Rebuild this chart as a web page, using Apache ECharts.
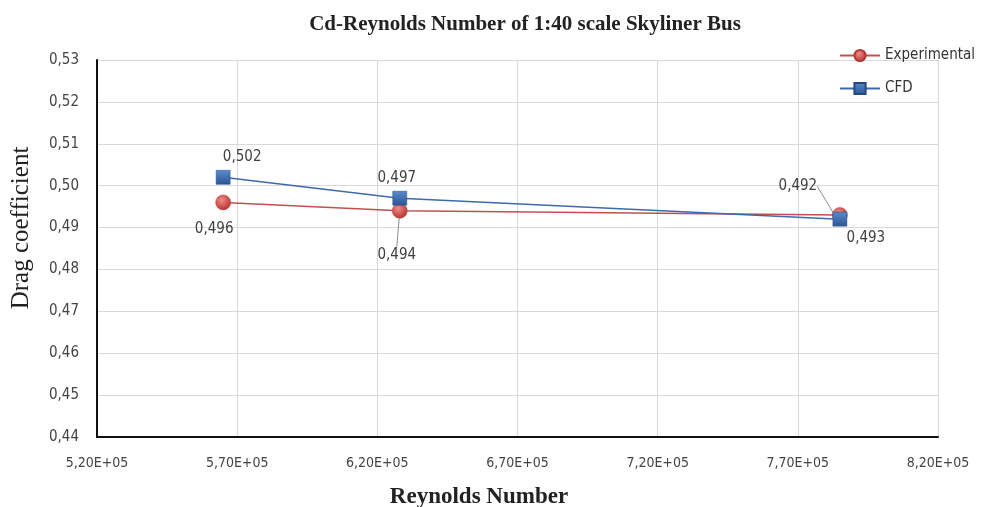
<!DOCTYPE html>
<html>
<head>
<meta charset="utf-8">
<script src="https://cdn.jsdelivr.net/npm/echarts@6/dist/echarts.min.js"></script>
<style>
html,body{margin:0;padding:0;background:#fff;}
#chart{width:984px;height:507px;}
</style>
</head>
<body>
<div id="chart"></div>
<script>
// Reynolds numbers of the three test runs
const reynolds = [565000, 628000, 785000];
// Drag coefficient, wind tunnel vs. CFD
const experimental = [0.496, 0.494, 0.493];
const cfd = [0.502, 0.497, 0.492];
const seriesNames = ['Experimental', 'CFD'];

// label placement around each point (dx, dy from the marker centre)
const expLabelShift = [[-9, 27], [-3, 44], [26, 23]];
const cfdLabelShift = [[19, -20], [-3, -20], [-42, -33]];
const expLeader = [false, true, false];
const cfdLeader = [false, false, true];

const comma = (v, d) => v.toFixed(d).replace('.', ',');
const narrow = "'Liberation Sans Narrow','DejaVu Sans Condensed','Liberation Sans',sans-serif";
const serif = "'Liberation Serif','DejaVu Serif',serif";

function buildData(xs, ys, leader) {
  return xs.map((x, i) => ({
    value: [x, ys[i]],
    labelLine: { show: leader[i], lineStyle: { color: '#8c8c8c', width: 1 }, length2: 0 }
  }));
}

const chart = echarts.init(document.getElementById('chart'));
chart.setOption({
  animation: false,
  backgroundColor: '#fff',
  title: [
    {
      text: 'Cd-Reynolds Number of 1:40 scale Skyliner Bus',
      left: 520, top: 9, textAlign: 'center',
      textStyle: { fontFamily: serif, fontWeight: 'bold', fontSize: 21, color: '#222' }
    },
    {
      // x-axis title
      text: 'Reynolds Number',
      left: 474, top: 481, textAlign: 'center',
      textStyle: { fontFamily: serif, fontWeight: 'bold', fontSize: 23, color: '#222' }
    }
  ],
  graphic: [
    {
      // y-axis title
      type: 'text', x: 21, y: 228, rotation: Math.PI / 2,
      style: {
        text: 'Drag coefficient', fontFamily: serif, fontSize: 25, fill: '#222',
        align: 'center', verticalAlign: 'middle'
      }
    }
  ],
  legend: {
    orient: 'vertical', right: 4, top: 43, itemGap: 18, itemWidth: 40, itemHeight: 14,
    data: seriesNames,
    textStyle: { fontFamily: narrow, fontSize: 15, color: '#333' }
  },
  grid: { left: 97, right: 46, top: 60, bottom: 70, outerBoundsMode: 'none', containLabel: false },
  xAxis: {
    type: 'value', min: 520000, max: 820000, interval: 50000,
    axisLine: { lineStyle: { color: '#111', width: 2 } },
    axisTick: { show: false },
    axisLabel: {
      margin: 19, fontFamily: narrow, fontSize: 14, color: '#444',
      formatter: v => comma(v / 1e5, 2) + 'E+05'
    },
    splitLine: { show: true, lineStyle: { color: '#d9d9d9', width: 1 } }
  },
  yAxis: {
    type: 'value', min: 0.44, max: 0.53, interval: 0.01,
    axisLine: { show: true, lineStyle: { color: '#111', width: 2 } },
    axisTick: { show: false },
    axisLabel: { margin: 18, fontFamily: narrow, fontSize: 15, color: '#444', formatter: v => comma(v, 2) },
    splitLine: { show: true, lineStyle: { color: '#d9d9d9', width: 1 } }
  },
  series: [
    {
      name: seriesNames[0], type: 'line', z: 3,
      data: buildData(reynolds, experimental, expLeader),
      symbol: 'circle', symbolSize: 15,
      lineStyle: { color: '#c0504d', width: 1.5 },
      itemStyle: {
        color: new echarts.graphic.RadialGradient(0.4, 0.35, 0.7, [
          { offset: 0, color: '#f08a86' }, { offset: 1, color: '#b3302c' }
        ]),
        borderColor: '#b03a36', borderWidth: 0.5
      },
      label: {
        show: true, position: 'inside', fontFamily: narrow, fontSize: 15, color: '#404040',
        formatter: p => comma(p.value[1], 3)
      },
      labelLayout: p => ({ dx: expLabelShift[p.dataIndex][0], dy: expLabelShift[p.dataIndex][1] })
    },
    {
      name: seriesNames[1], type: 'line', z: 4,
      data: buildData(reynolds, cfd, cfdLeader),
      symbol: 'rect', symbolSize: 14,
      lineStyle: { color: '#3d6aab', width: 1.5 },
      itemStyle: {
        color: new echarts.graphic.LinearGradient(0, 0, 0, 1, [
          { offset: 0, color: '#5a8bcf' }, { offset: 1, color: '#2c5592' }
        ]),
        borderColor: '#26497e', borderWidth: 0.5
      },
      label: {
        show: true, position: 'inside', fontFamily: narrow, fontSize: 15, color: '#404040',
        formatter: p => comma(p.value[1], 3)
      },
      labelLayout: p => ({ dx: cfdLabelShift[p.dataIndex][0], dy: cfdLabelShift[p.dataIndex][1] })
    }
  ]
});
</script>
</body>
</html>
